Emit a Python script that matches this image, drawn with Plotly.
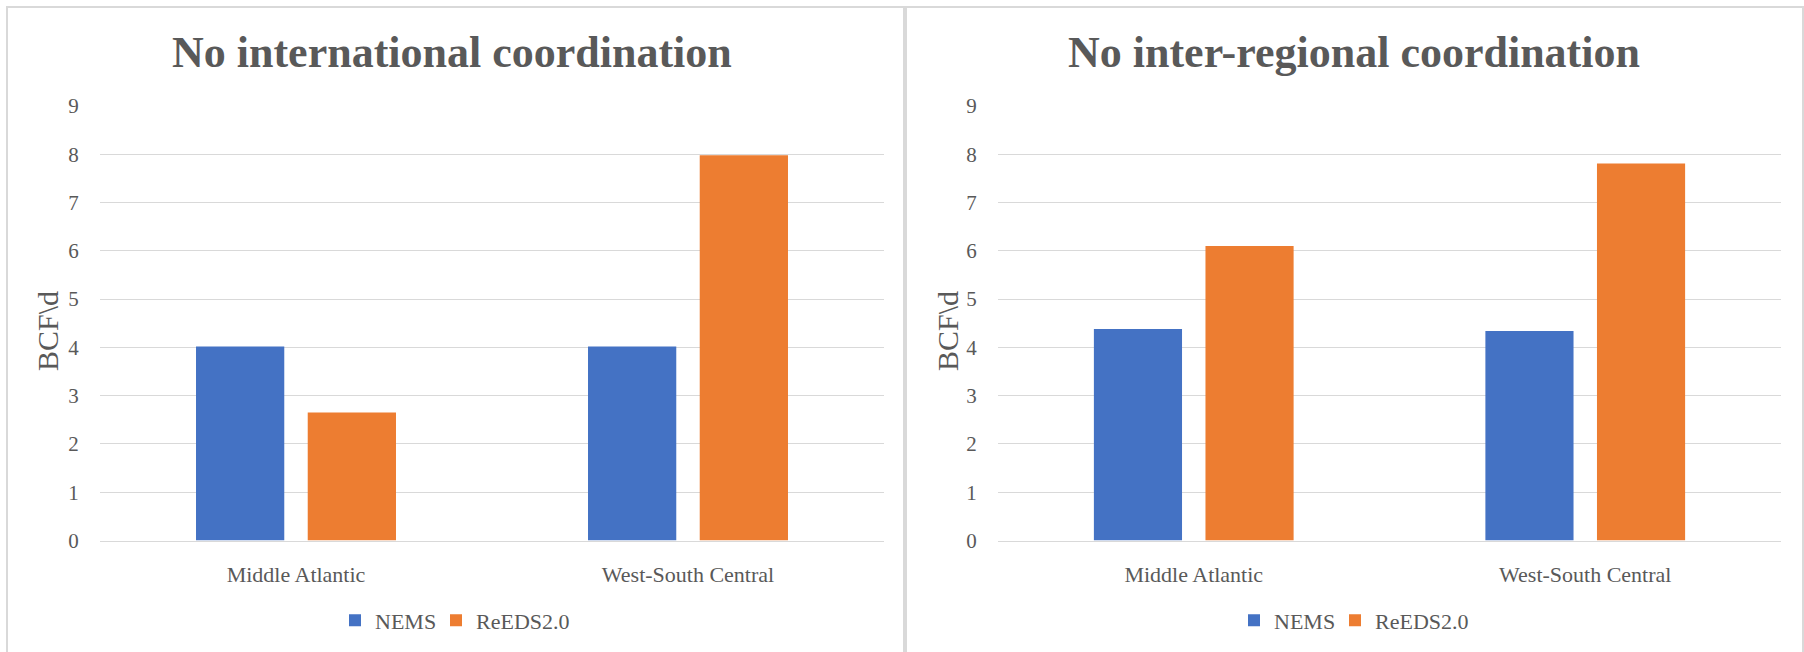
import plotly.graph_objects as go

W, H = 1804, 652

categories = ["Middle Atlantic", "West-South Central"]
series_names = ["NEMS", "ReEDS2.0"]
left_nems = [4.02, 4.02]
left_reeds = [2.65, 7.98]
right_nems = [4.38, 4.34]
right_reeds = [6.10, 7.81]
panel_titles = ["No international coordination", "No inter-regional coordination"]
y_title = "BCF\\d"
y_ticks = [0, 1, 2, 3, 4, 5, 6, 7, 8, 9]

BLUE = "#4472C4"
ORANGE = "#ED7D31"
GRID = "#D9D9D9"
TXT = "#595959"
FONT = "Liberation Serif"

def px_x(v):
    return v / W

def px_y(v):
    return (H - v) / H

fig = go.Figure()

fig.add_trace(go.Bar(x=categories, y=left_nems, name=series_names[0], marker=dict(color=BLUE, line=dict(width=0)),
                     xaxis="x", yaxis="y", legend="legend", showlegend=True))
fig.add_trace(go.Bar(x=categories, y=left_reeds, name=series_names[1], marker=dict(color=ORANGE, line=dict(width=0)),
                     xaxis="x", yaxis="y", legend="legend2", showlegend=True))
fig.add_trace(go.Bar(x=categories, y=right_nems, name=series_names[0], marker=dict(color=BLUE, line=dict(width=0)),
                     xaxis="x2", yaxis="y2", legend="legend3", showlegend=True))
fig.add_trace(go.Bar(x=categories, y=right_reeds, name=series_names[1], marker=dict(color=ORANGE, line=dict(width=0)),
                     xaxis="x2", yaxis="y2", legend="legend4", showlegend=True))

ydom = [px_y(540.5), px_y(106)]
xaxis_common = dict(showgrid=False, showline=True, linecolor=GRID, linewidth=1, ticks="outside", ticklen=14,
                    tickcolor="rgba(0,0,0,0)", tickfont=dict(family=FONT, size=22, color=TXT), fixedrange=True,
                    automargin=False)
yaxis_common = dict(range=[0, 9], tickvals=y_ticks, showgrid=True, gridcolor=GRID, gridwidth=1.3, zeroline=False,
                    showline=False, ticks="outside", ticklen=16, tickcolor="rgba(0,0,0,0)",
                    tickfont=dict(family=FONT, size=21, color=TXT), domain=ydom, fixedrange=True,
                    automargin=False)

leg_common = dict(orientation="h", font=dict(family=FONT, size=22, color=TXT), bgcolor="rgba(0,0,0,0)",
                  xanchor="left", yanchor="middle", itemclick=False, itemdoubleclick=False)

fig.update_layout(
    width=W, height=H,
    showlegend=True,
    margin=dict(l=0, r=0, t=0, b=0, pad=0, autoexpand=False),
    paper_bgcolor="white", plot_bgcolor="white",
    barmode="group", bargap=0.43, bargroupgap=0.21,
    xaxis=dict(domain=[px_x(100), px_x(884)], anchor="y", **xaxis_common),
    yaxis=dict(anchor="x", **yaxis_common),
    xaxis2=dict(domain=[px_x(998), px_x(1781)], anchor="y2", **xaxis_common),
    yaxis2=dict(anchor="x2", **yaxis_common),
    legend=dict(x=px_x(335), y=px_y(620.5), **leg_common),
    legend2=dict(x=px_x(436), y=px_y(620.5), **leg_common),
    legend3=dict(x=px_x(335 + 899), y=px_y(620.5), **leg_common),
    legend4=dict(x=px_x(436 + 899), y=px_y(620.5), **leg_common),
    font=dict(family=FONT, color=TXT),
)

annotations = []
for cx, t in zip([452, 1354], panel_titles):
    annotations.append(dict(text="<b>%s</b>" % t, x=px_x(cx), y=px_y(53), xref="paper", yref="paper",
                            xanchor="center", yanchor="middle", showarrow=False,
                            font=dict(family=FONT, size=44, color=TXT)))
for cx in [47, 947]:
    annotations.append(dict(text=y_title, x=px_x(cx), y=px_y(331), xref="paper", yref="paper",
                            xanchor="center", yanchor="middle", showarrow=False, textangle=-90,
                            font=dict(family=FONT, size=30, color=TXT)))
fig.update_layout(annotations=annotations)

shapes = [
    dict(type="line", xref="paper", yref="paper", x0=px_x(6), x1=px_x(1804), y0=px_y(7), y1=px_y(7),
         line=dict(color=GRID, width=2)),
    dict(type="line", xref="paper", yref="paper", x0=px_x(7), x1=px_x(7), y0=px_y(7), y1=0,
         line=dict(color=GRID, width=2)),
    dict(type="line", xref="paper", yref="paper", x0=px_x(905), x1=px_x(905), y0=px_y(7), y1=0,
         line=dict(color=GRID, width=4)),
    dict(type="line", xref="paper", yref="paper", x0=px_x(1803), x1=px_x(1803), y0=px_y(7), y1=0,
         line=dict(color=GRID, width=2)),
]
fig.update_layout(shapes=shapes)

fig.write_html("out.html", config={"displayModeBar": False})
